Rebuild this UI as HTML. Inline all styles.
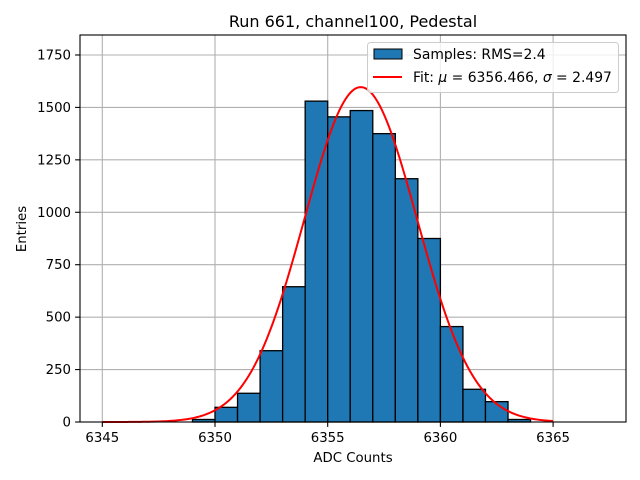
<!DOCTYPE html>
<html><head><meta charset="utf-8"><style>body{margin:0;background:#fff}svg{display:block;font-family:"DejaVu Sans","Liberation Sans",sans-serif}</style></head>
<body>
<svg id="c" width="640" height="480" xmlns="http://www.w3.org/2000/svg"></svg>
<script>
const binEdges=[6349,6350,6351,6352,6353,6354,6355,6356,6357,6358,6359,6360,6361,6362,6363,6364];
const counts=[12,70,137,340,645,1530,1455,1485,1375,1160,875,455,156,97,12];
const xTicks=[6345,6350,6355,6360,6365];
const yTicks=[0,250,500,750,1000,1250,1500,1750];
const fitMu=[6356.466];
const fitSigma=[2.497];
const fitAmp=[1597];
const fitRange=[6345,6365];
const NS="http://www.w3.org/2000/svg";
const svg=document.getElementById('c');
const L=80,R=626,T=35,B=422;
const X=v=>102.3+(v-6345)*22.54;
const Y=v=>B-v*(52.43/250);
function el(t,a,p){const e=document.createElementNS(NS,t);for(const k in a)e.setAttribute(k,a[k]);(p||svg).appendChild(e);return e;}
el('rect',{x:0,y:0,width:640,height:480,fill:'#fff'});
xTicks.forEach(v=>{const g=el('line',{x1:X(v),x2:X(v),y1:T,y2:B,stroke:'#b0b0b0','stroke-width':1.1});

});
yTicks.forEach(v=>{const g=el('line',{x1:L,x2:R,y1:Y(v),y2:Y(v),stroke:'#b0b0b0','stroke-width':1.1});

});
counts.forEach((c,i)=>{const x0=X(binEdges[i]),x1=X(binEdges[i+1]);
const r=el('rect',{x:x0,y:Y(c),width:x1-x0,height:B-Y(c),fill:'#1f77b4',stroke:'#000','stroke-width':1.3});

});
let d='';for(let i=0;i<=200;i++){const v=fitRange[0]+(fitRange[1]-fitRange[0])*i/200;
const f=fitAmp[0]*Math.exp(-0.5*Math.pow((v-fitMu[0])/fitSigma[0],2));d+=(i?'L':'M')+X(v).toFixed(2)+','+Y(f).toFixed(2);}
const fp=el('path',{d:d,fill:'none',stroke:'#ff0000','stroke-width':2});


const fr=el('rect',{x:L,y:T,width:R-L,height:B-T,fill:'none',stroke:'#000','stroke-width':1.1});


xTicks.forEach(v=>{el('line',{x1:X(v),x2:X(v),y1:B,y2:B+4.9,stroke:'#000','stroke-width':1.1});
const t=el('text',{x:X(v),y:B+20,'font-size':13.3,'text-anchor':'middle',fill:'#000'});t.textContent=v;

});
yTicks.forEach(v=>{el('line',{x1:L-4.9,x2:L,y1:Y(v),y2:Y(v),stroke:'#000','stroke-width':1.1});
const t=el('text',{x:L-9,y:Y(v)+4.5,'font-size':13.3,'text-anchor':'end',fill:'#000'});t.textContent=v;

});
</script>
<svg style="position:absolute;left:0;top:0" width="640" height="480" xmlns="http://www.w3.org/2000/svg">
<text x="353" y="27" font-size="16" text-anchor="middle">Run 661, channel100, Pedestal</text>
<text x="353" y="462" font-size="13.3" text-anchor="middle">ADC Counts</text>
<text x="0" y="0" font-size="13.3" text-anchor="middle" transform="translate(26,229) rotate(-90)">Entries</text>
<g>
<rect x="367.5" y="42.5" width="251" height="50" rx="3" fill="#fff" fill-opacity="0.8" stroke="#ccc"/>
<rect x="374" y="49" width="28" height="10" fill="#1f77b4" stroke="#000"/>
<text x="413" y="59" font-size="13.9">Samples: RMS=2.4</text>
<line x1="373" x2="402" y1="77" y2="77" stroke="#f00" stroke-width="2"/>
<text x="413" y="82" font-size="13.9">Fit: <tspan font-style="italic">μ</tspan> = 6356.466, <tspan font-style="italic">σ</tspan> = 2.497</text>
</g>
</svg>
</body></html>
